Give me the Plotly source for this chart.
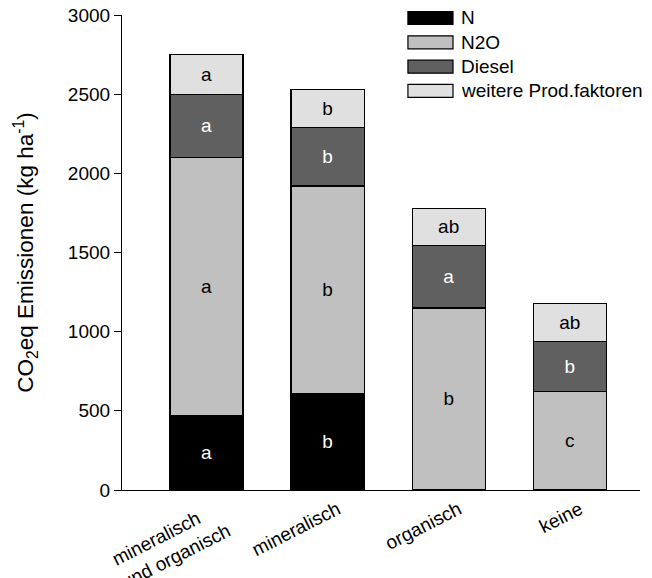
import plotly.graph_objects as go

categories = ["mineralisch und organisch", "mineralisch", "organisch", "keine"]
tick_labels = ["mineralisch" + "&nbsp;" * 4 + "<br>und organisch", "mineralisch", "organisch", "keine"]
series_names = ["N", "N2O", "Diesel", "weitere Prod.faktoren"]
n_vals = [470, 610, 0, 0]
n2o_vals = [1630, 1310, 1150, 620]
diesel_vals = [400, 370, 395, 320]
weitere_vals = [250, 240, 235, 240]
n_letters = ["a", "b", "", ""]
n2o_letters = ["a", "b", "b", "c"]
diesel_letters = ["a", "b", "a", "b"]
weitere_letters = ["a", "b", "ab", "ab"]
y_ticks = [0, 500, 1000, 1500, 2000, 2500, 3000]

values = [n_vals, n2o_vals, diesel_vals, weitere_vals]
letters = [n_letters, n2o_letters, diesel_letters, weitere_letters]
colors = ["#000000", "#c0c0c0", "#606060", "#e0e0e0"]
text_colors = ["white", "black", "white", "black"]

FONT = "Liberation Sans, Arial, sans-serif"

fig = go.Figure()
for name, vals, labs, col, tcol in zip(series_names, values, letters, colors, text_colors):
    fig.add_trace(go.Bar(
        x=categories, y=vals, name=name, text=labs,
        textposition="inside", insidetextanchor="middle", textangle=0,
        insidetextfont=dict(color=tcol, size=19, family=FONT),
        marker=dict(color=col, line=dict(color="black", width=1.2)),
        showlegend=False,
    ))

# custom legend (wide swatches) built from the series lists
lx0, lx1, lc0, lstep, lh = 0.552, 0.639, 0.9937, 0.0512, 0.0274
for i, (name, col) in enumerate(zip(series_names, colors)):
    yc = lc0 - i * lstep
    fig.add_shape(type="rect", xref="paper", yref="paper",
                  x0=lx0, x1=lx1, y0=yc - lh / 2, y1=yc + lh / 2,
                  fillcolor=col, line=dict(color="black", width=1.2))
    fig.add_annotation(xref="paper", yref="paper", x=lx1 + 0.012, y=yc,
                       text=name, showarrow=False, xanchor="left", yanchor="middle",
                       font=dict(size=19, color="black", family=FONT))

fig.update_layout(
    barmode="stack",
    bargap=0.397,
    width=652, height=578,
    margin=dict(l=122, r=12, t=15, b=88, autoexpand=False),
    plot_bgcolor="white", paper_bgcolor="white",
    font=dict(family=FONT, color="black", size=19),
    xaxis=dict(
        range=[-0.698, 3.58], showline=True, linecolor="black", linewidth=1.2,
        ticks="", tickangle=-27, tickfont=dict(size=19), automargin=False,
        tickvals=categories, ticktext=tick_labels,
        ticklabelshift=10, ticklabeloverflow="allow",
    ),
    yaxis=dict(
        range=[0, 3000], tickvals=y_ticks, showline=True, linecolor="black",
        linewidth=1.2, ticks="outside", ticklen=7, tickcolor="black", tickwidth=1.2,
        showgrid=False, zeroline=False, tickfont=dict(size=19), automargin=False,
        ticklabeloverflow="allow",
        title=dict(text="CO<sub>2</sub>eq Emissionen (kg ha<sup>-1</sup>)",
                   font=dict(size=22.5), standoff=27),
    ),
)

fig.write_html("out.html", config={"displayModeBar": False},
               post_script="document.body.style.margin='0';")
